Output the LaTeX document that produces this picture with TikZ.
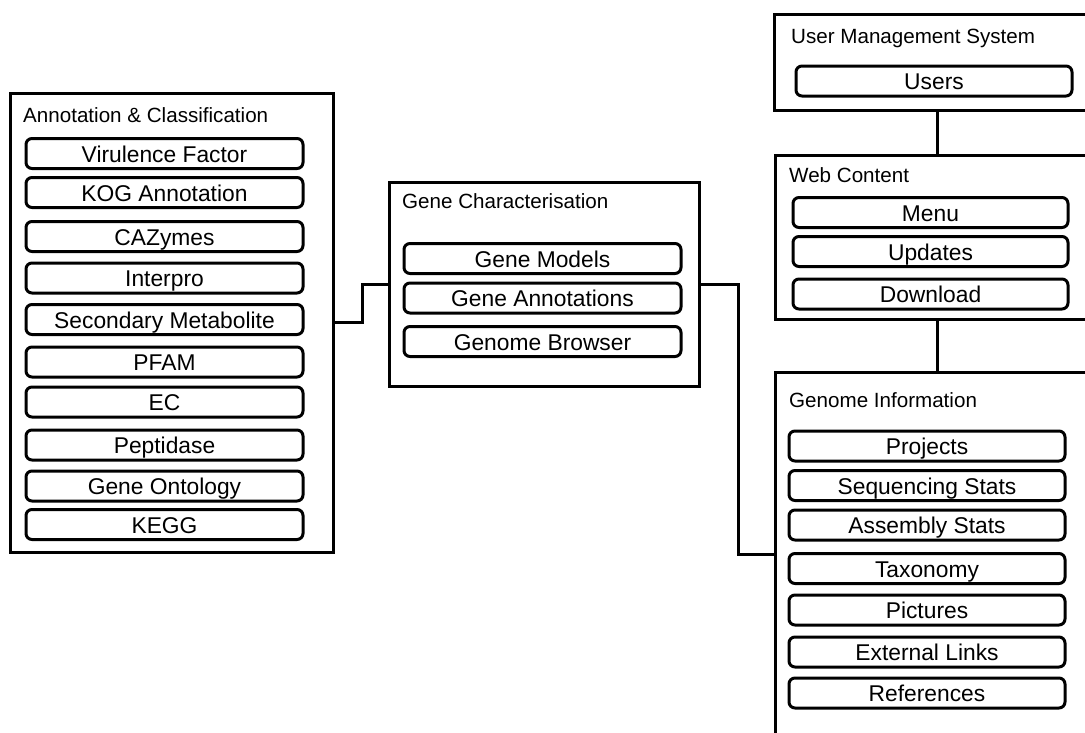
\documentclass[tikz,border=0pt]{standalone}
\usepackage{fontspec}
\setmainfont{Liberation Sans}
\begin{document}
\begin{tikzpicture}[x=1pt,y=-1pt,
  outer/.style={draw, line width=3pt, rectangle, inner sep=0pt},
  item/.style={draw, line width=3pt, rounded corners=6pt, rectangle, inner sep=0pt,
    minimum width=277pt, minimum height=30pt, font=\fontsize{22.8}{26}\selectfont,
    text height=17.5pt, text depth=0pt},
  ttl/.style={anchor=base west, inner sep=0pt, font=\fontsize{20.6}{24}\selectfont},
  link/.style={line width=3pt}]
\useasboundingbox (0,0) rectangle (1085,732);
\clip (0,0) rectangle (1085,732);
\fill[white] (0,0) rectangle (1085,732);

% Annotation & Classification
\node[outer, minimum width=323pt, minimum height=459pt] (ac) at (171.5,322.5) {};
\node[ttl] (act) at (23,122) {Annotation \& Classification};
\node[item] (vf)  at (164.5,153.5) {Virulence Factor};
\node[item] (kog) at (164.5,192.5) {KOG Annotation};
\node[item] (caz) at (164.5,236.5) {CAZymes};
\node[item] (ipr) at (164.5,278) {Interpro};
\node[item] (sm)  at (164.5,319.5) {Secondary Metabolite};
\node[item] (pf)  at (164.5,362) {PFAM};
\node[item] (ec)  at (164.5,402) {EC};
\node[item] (pep) at (164.5,445) {Peptidase};
\node[item] (go)  at (164.5,486) {Gene Ontology};
\node[item] (kegg) at (164.5,524.5) {KEGG};

% Gene Characterisation
\node[outer, minimum width=310pt, minimum height=204pt] (gc) at (544,284) {};
\node[ttl] (gct) at (402,208) {Gene Characterisation};
\node[item] (gm) at (542.5,258.5) {Gene Models};
\node[item] (ga) at (542.5,298) {Gene Annotations};
\node[item] (gb) at (542.5,341.5) {Genome Browser};

% User Management System
\node[outer, minimum width=326pt, minimum height=96pt] (ums) at (937,62) {};
\node[ttl] (umst) at (791,43) {User Management System};
\node[item, minimum width=276pt] (us) at (934,81) {Users};

% Web Content
\node[outer, minimum width=324pt, minimum height=164pt] (wc) at (937,237) {};
\node[ttl] (wct) at (789,182) {Web Content};
\node[item, minimum width=275pt] (menu) at (930.5,212.5) {Menu};
\node[item, minimum width=275pt] (upd) at (930.5,251.5) {Updates};
\node[item, minimum width=275pt] (dl) at (930.5,294) {Download};

% Genome Information
\node[outer, minimum width=324pt, minimum height=364pt] (gi) at (937,554) {};
\node[ttl] (git) at (789,407) {Genome Information};
\node[item, minimum width=276pt] (proj) at (927,446) {Projects};
\node[item, minimum width=276pt] (seq) at (927,485.5) {Sequencing Stats};
\node[item, minimum width=276pt] (asm) at (927,525) {Assembly Stats};
\node[item, minimum width=276pt] (tax) at (927,568.5) {Taxonomy};
\node[item, minimum width=276pt] (pic) at (927,610) {Pictures};
\node[item, minimum width=276pt] (ext) at (927,652) {External Links};
\node[item, minimum width=276pt] (ref) at (927,693) {References};

% connectors
\draw[link] (ac.east) -- ++(28,0) |- (gc.west);
\draw[link] (gc.east) -- ++(38,0) |- (gi.west);
\draw[link] (ums.south) -- (wc.north);
\draw[link] (wc.south) -- (gi.north);
\end{tikzpicture}
\end{document}
